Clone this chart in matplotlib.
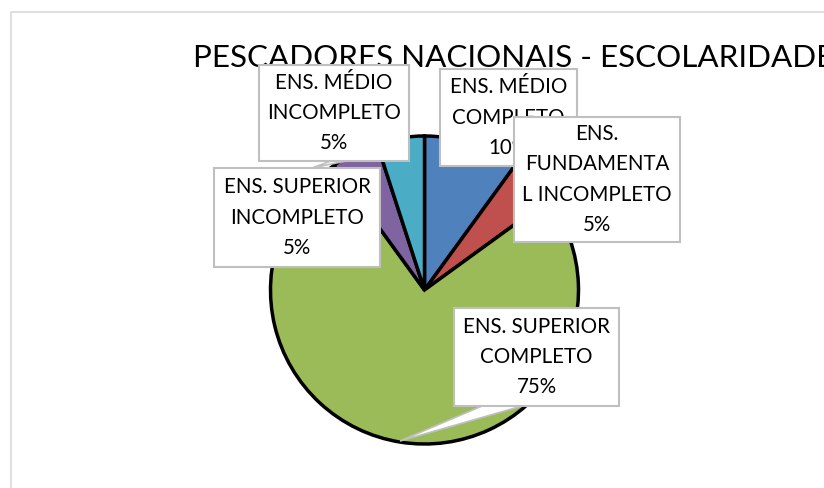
import matplotlib.pyplot as plt
from matplotlib.patches import Rectangle, Polygon

categories = ['ENS. MÉDIO COMPLETO', 'ENS. FUNDAMENTAL INCOMPLETO', 'ENS. SUPERIOR COMPLETO',
              'ENS. SUPERIOR INCOMPLETO', 'ENS. MÉDIO INCOMPLETO']
label_text = ['ENS. MÉDIO\nCOMPLETO', 'ENS.\nFUNDAMENTA\nL INCOMPLETO', 'ENS. SUPERIOR\nCOMPLETO',
              'ENS. SUPERIOR\nINCOMPLETO', 'ENS. MÉDIO\nINCOMPLETO']
values = [10, 5, 75, 5, 5]
colors = ['#4F81BD', '#C0504D', '#9BBB59', '#8064A2', '#4BACC6']

# label boxes in pixel units from the top-left corner: left, top, right, bottom
boxes = [(440, 69, 577, 166), (514, 117, 680, 242), (454, 308, 619, 406),
         (214, 168, 380, 267), (259, 65, 409, 161)]
box_z = [5, 7, 6, 6, 7]

W, H = 824, 488
font = ['Lato', 'DejaVu Sans']


def Y(y):
    return H - y


fig = plt.figure(figsize=(W / 100, H / 100), dpi=100)
ax = fig.add_axes([0, 0, 1, 1])

# chart frame
ax.plot([11.5, 11.5, W + 5], [Y(H + 5), Y(12), Y(12)], color='#D9D9D9', lw=1.2, zorder=1)

ax.text(193, Y(67), 'PESCADORES NACIONAIS - ESCOLARIDADE', fontsize=22.6, family=font,
        ha='left', va='baseline', color='black', zorder=3)

wedges, _ = ax.pie(values, colors=colors, startangle=90, counterclock=False,
                   center=(424.5, Y(290)), radius=154, frame=True,
                   wedgeprops=dict(edgecolor='black', linewidth=2.5))
for w in wedges:
    w.set_zorder(2)
ax.set_xlim(0, W)
ax.set_ylim(0, H)
ax.set_aspect('equal')
ax.axis('off')

# callout pointers
pointers = {2: [(482, 406), (522, 406), (400, 441)],
            4: [(331, 161), (346, 161), (312, 168)]}
for i, pts in pointers.items():
    ax.add_patch(Polygon([(x, Y(y)) for x, y in pts], closed=True, facecolor='white',
                         edgecolor='#BFBFBF', lw=1.2, zorder=box_z[i] - 0.5))

for i, (lab, val) in enumerate(zip(label_text, values)):
    x0, y0, x1, y1 = boxes[i]
    ax.add_patch(Rectangle((x0, Y(y1)), x1 - x0, y1 - y0, facecolor='white',
                           edgecolor='#BFBFBF', lw=1.5, zorder=box_z[i]))
    ax.text((x0 + x1) / 2, Y((y0 + y1) / 2), f'{lab}\n{val}%', fontsize=14.8, family=font,
            ha='center', va='center', linespacing=1.63, color='black', zorder=box_z[i] + 0.1)

fig.savefig('out.png', dpi=100)
